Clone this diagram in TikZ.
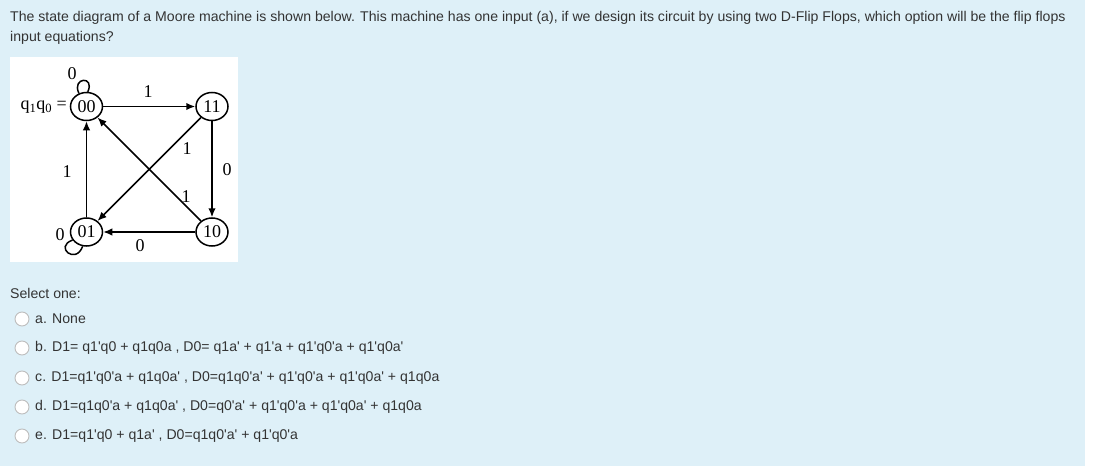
\documentclass[tikz,border=0pt]{standalone}
\usepackage{fontspec}
\setmainfont{Liberation Sans}
\newfontfamily\serif{Liberation Serif}
\usetikzlibrary{arrows.meta,shapes.geometric}
\definecolor{panel}{HTML}{DEF0F8}
\definecolor{txt}{HTML}{333333}
\definecolor{radio}{HTML}{BDBDBD}
\newcommand\ap{\textquotesingle}
\begin{document}
\begin{tikzpicture}[x=1pt,y=1pt,
  txtn/.style={anchor=west, inner sep=0, text=txt, font=\fontsize{14.1}{16}\selectfont},
  state/.style={ellipse, draw, line width=1.5pt, minimum width=32pt, minimum height=28pt, inner sep=0, font=\serif\fontsize{18}{18}\selectfont},
  lbl/.style={font=\serif\fontsize{18}{18}\selectfont, inner sep=0},
  edge/.style={line width=1.5pt, -{Latex[length=9pt,width=7.5pt]}},
  loopline/.style={line width=1.5pt},
  radiob/.style={circle, draw=radio, line width=0.9pt, fill=white, minimum size=14pt, inner sep=0}]
\fill[white] (0,0) rectangle (1093,-471);
\fill[panel] (0,0) rectangle (1085,-466);
\node[txtn] (h1) at (10,-18) {The state diagram of a Moore machine is shown below. This machine has one input (a), if we design its circuit by using two D-Flip Flops, which option will be the flip flops};
\node[txtn] (h2) at (10,-38) {input equations?};
\fill[white] (10,-57) rectangle (238,-262);
% states
\node[state] (s00) at (86.5,-106.5) {00};
\node[state] (s11) at (212,-106.5) {11};
\node[state] (s01) at (86.5,-232) {01};
\node[state] (s10) at (212,-232) {10};
\node[lbl, anchor=east] (qq) at (67,-107) {q\textsubscript{1}q\textsubscript{0} =};
% edges
\draw[edge] (s00) -- (s11);
\draw[edge] (s11) -- (s10);
\draw[edge] (s10) -- (s01);
\draw[edge] (s01) -- (s00);
\draw[edge] (s11) -- (s01);
\draw[edge] (s10) -- (s00);
% loops
\draw[loopline] (s00.120) .. controls +(115:18) and +(65:18) .. (s00.85);
\draw[loopline] (s01.255) .. controls +(250:20) and +(200:20) .. (s01.210);
% labels
\node[lbl] (l0a) at (72,-74) {0};
\node[lbl] (l1a) at (148,-92) {1};
\node[lbl] (l1b) at (187,-149) {1};
\node[lbl] (l0b) at (227,-170) {0};
\node[lbl] (l1c) at (67,-172) {1};
\node[lbl] (l1d) at (186,-197) {1};
\node[lbl] (l0c) at (140,-246) {0};
\node[lbl] (l0d) at (60,-235) {0};
% options
\node[txtn] (sel) at (10,-293) {Select one:};
\node[radiob] (ra) at (22,-319) {};
\node[radiob] (rb) at (22,-348) {};
\node[radiob] (rc) at (22,-378) {};
\node[radiob] (rd) at (22,-407) {};
\node[radiob] (re) at (22,-436) {};
\node[txtn] (oa) at (35,-319) {a. None};
\node[txtn] (ob) at (35,-348) {b. D1= q1\ap q0 + q1q0a , D0= q1a\ap{} + q1\ap a + q1\ap q0\ap a + q1\ap q0a\ap};
\node[txtn] (oc) at (35,-378) {c. D1=q1\ap q0\ap a + q1q0a\ap{} , D0=q1q0\ap a\ap{} + q1\ap q0\ap a + q1\ap q0a\ap{} + q1q0a};
\node[txtn] (od) at (35,-407) {d. D1=q1q0\ap a + q1q0a\ap{} , D0=q0\ap a\ap{} + q1\ap q0\ap a + q1\ap q0a\ap{} + q1q0a};
\node[txtn] (oe) at (35,-436) {e. D1=q1\ap q0 + q1a\ap{} , D0=q1q0\ap a\ap{} + q1\ap q0\ap a};
\end{tikzpicture}
\end{document}
